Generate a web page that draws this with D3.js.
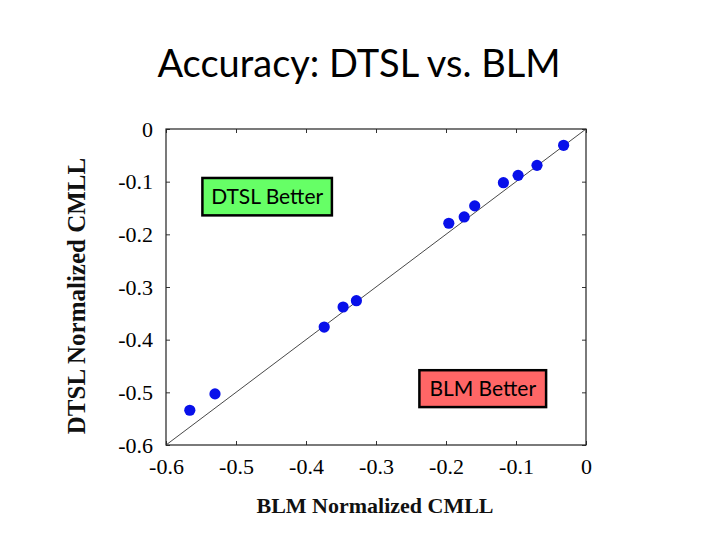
<!DOCTYPE html>
<html>
<head>
<meta charset="utf-8">
<script src="https://cdn.jsdelivr.net/npm/d3@7"></script>
<style>
  body { margin: 0; background: #fff; }
  svg { display: block; }
</style>
</head>
<body>
<div id="chart"></div>
<script>
// data
const blmCmll = [-0.566, -0.530, -0.374, -0.347, -0.328, -0.196, -0.174, -0.159, -0.118, -0.097, -0.070, -0.032];
const dtslCmll = [-0.534, -0.503, -0.376, -0.338, -0.326, -0.179, -0.167, -0.146, -0.102, -0.088, -0.069, -0.031];
const tickValues = [-0.6, -0.5, -0.4, -0.3, -0.2, -0.1, 0];
const regionLabels = ["DTSL Better", "BLM Better"];

const width = 720, height = 540;
const margin = { top: 129, right: 134, bottom: 95, left: 166 };

const svg = d3.select("#chart").append("svg")
  .attr("width", width)
  .attr("height", height);

const x = d3.scaleLinear().domain([-0.6, 0]).range([margin.left, width - margin.right]);
const y = d3.scaleLinear().domain([-0.6, 0]).range([height - margin.bottom, margin.top]);

const fmt = (d) => (d === 0 ? "0" : d.toFixed(1));
const serif = "'Liberation Serif', 'Times New Roman', serif";

// title
svg.append("text")
  .attr("x", 359)
  .attr("y", 77)
  .attr("text-anchor", "middle")
  .style("font-family", "Lato, 'Open Sans', sans-serif")
  .style("font-size", "38px")
  .attr("fill", "#000")
  .text("Accuracy: DTSL vs. BLM");

// axes, ticks pointing inwards
const axisB = svg.append("g")
  .attr("transform", "translate(0," + y(-0.6) + ")")
  .call(d3.axisBottom(x).tickValues(tickValues).tickFormat(fmt).tickSizeInner(-4).tickSizeOuter(0).tickPadding(13));
const axisL = svg.append("g")
  .attr("transform", "translate(" + x(-0.6) + ",0)")
  .call(d3.axisLeft(y).tickValues(tickValues).tickFormat(fmt).tickSizeInner(-4).tickSizeOuter(0).tickPadding(13));
const axisT = svg.append("g")
  .attr("transform", "translate(0," + y(0) + ")")
  .call(d3.axisTop(x).tickValues(tickValues).tickFormat("").tickSizeInner(-4).tickSizeOuter(0));
const axisR = svg.append("g")
  .attr("transform", "translate(" + x(0) + ",0)")
  .call(d3.axisRight(y).tickValues(tickValues).tickFormat("").tickSizeInner(-4).tickSizeOuter(0));

[axisB, axisL, axisT, axisR].forEach((g) => {
  g.select(".domain").remove();
  g.selectAll(".tick line").attr("stroke", "#333");
  g.selectAll("text")
    .style("font-family", serif)
    .style("font-size", "22px")
    .attr("fill", "#000");
});

// frame
svg.append("rect")
  .attr("x", x(-0.6))
  .attr("y", y(0))
  .attr("width", x(0) - x(-0.6))
  .attr("height", y(-0.6) - y(0))
  .attr("fill", "none")
  .attr("stroke", "#222")
  .attr("stroke-width", 1.2);

// y = x line
svg.append("line")
  .attr("x1", x(-0.6)).attr("y1", y(-0.6))
  .attr("x2", x(0)).attr("y2", y(0))
  .attr("stroke", "#333")
  .attr("stroke-width", 0.9);

// points
svg.selectAll(".dot")
  .data(blmCmll.map((v, i) => ({ blm: v, dtsl: dtslCmll[i] })))
  .enter()
  .append("circle")
  .attr("class", "dot")
  .attr("cx", (d) => x(d.blm))
  .attr("cy", (d) => y(d.dtsl))
  .attr("r", 5.6)
  .attr("fill", "#0810ea");

// region boxes
const boxes = [
  { label: regionLabels[0], x0: -0.548, y0: -0.093, x1: -0.363, y1: -0.164, fill: "#66ff66" },
  { label: regionLabels[1], x0: -0.238, y0: -0.458, x1: -0.057, y1: -0.528, fill: "#ff6666" },
];
const box = svg.selectAll(".box").data(boxes).enter().append("g").attr("class", "box");
box.append("rect")
  .attr("x", (d) => x(d.x0))
  .attr("y", (d) => y(d.y0))
  .attr("width", (d) => x(d.x1) - x(d.x0))
  .attr("height", (d) => y(d.y1) - y(d.y0))
  .attr("fill", (d) => d.fill)
  .attr("stroke", "#000")
  .attr("stroke-width", 2.5);
box.append("text")
  .attr("x", (d) => (x(d.x0) + x(d.x1)) / 2)
  .attr("y", (d) => (y(d.y0) + y(d.y1)) / 2 + 7.5)
  .attr("text-anchor", "middle")
  .style("font-family", "Lato, 'Open Sans', sans-serif")
  .style("font-size", "21px")
  .attr("fill", "#000")
  .text((d) => d.label);

// axis titles
svg.append("text")
  .attr("x", 375)
  .attr("y", 513)
  .attr("text-anchor", "middle")
  .style("font-family", serif)
  .style("font-size", "22px")
  .style("font-weight", "bold")
  .attr("fill", "#111")
  .text("BLM Normalized CMLL");

svg.append("text")
  .attr("transform", "translate(85,296) rotate(-90)")
  .attr("text-anchor", "middle")
  .style("font-family", serif)
  .style("font-size", "25px")
  .style("font-weight", "bold")
  .attr("fill", "#111")
  .text("DTSL Normalized CMLL");
</script>
</body>
</html>
